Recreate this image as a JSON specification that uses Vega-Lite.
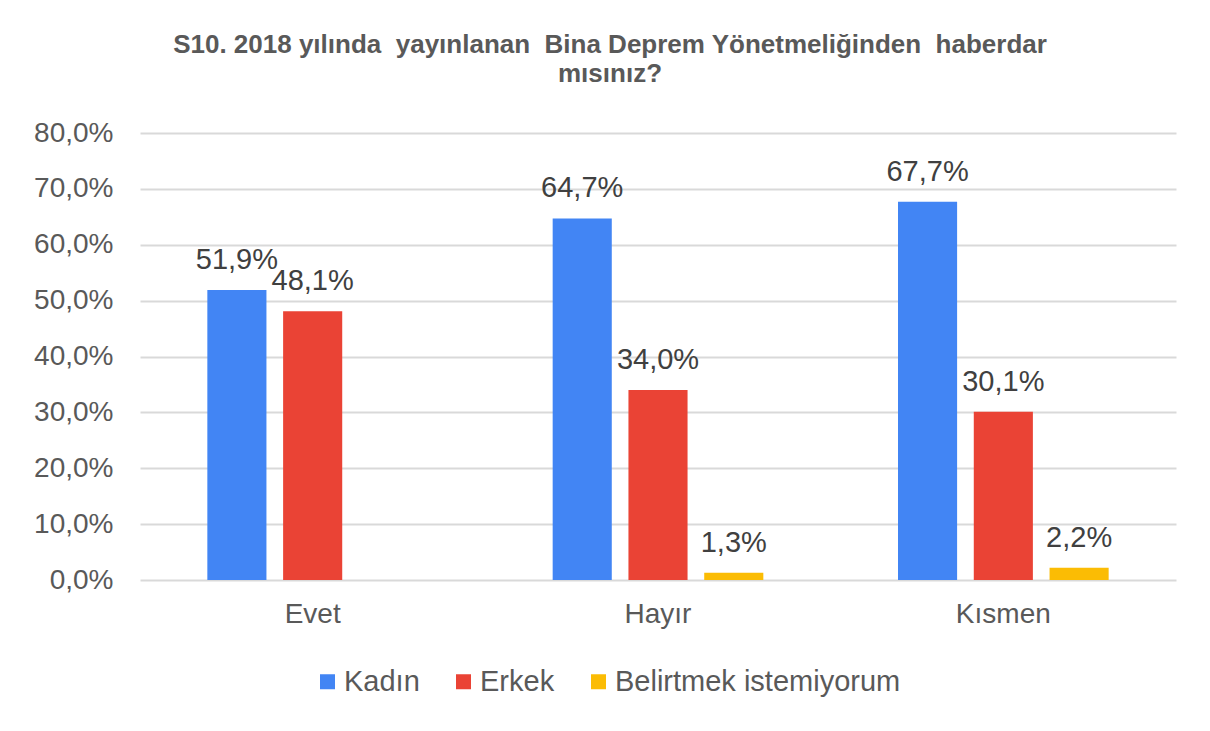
{
  "$schema": "https://vega.github.io/schema/vega-lite/v6.json",
  "width": 1036,
  "height": 447,
  "autosize": {"type": "none"},
  "padding": {"left": 140, "top": 133, "right": 34, "bottom": 151},
  "background": "white",
  "config": {
    "locale": {"number": {"decimal": ",", "thousands": ".", "grouping": [3], "currency": ["", " TL"]}},
    "font": "Liberation Sans",
    "view": {"stroke": null}
  },
  "title": {
    "text": ["S10. 2018 yılında\u00a0 yayınlanan\u00a0 Bina Deprem Yönetmeliğinden\u00a0 haberdar", "mısınız?"],
    "font": "Liberation Sans",
    "fontSize": 26,
    "fontWeight": "bold",
    "color": "#595959",
    "anchor": "middle",
    "dx": -48,
    "offset": 32,
    "lineHeight": 29
  },
  "data": {
    "values": [
      {"cevap": "Evet", "grup": "Kadın", "oran": 0.519},
      {"cevap": "Evet", "grup": "Erkek", "oran": 0.481},
      {"cevap": "Hayır", "grup": "Kadın", "oran": 0.647},
      {"cevap": "Hayır", "grup": "Erkek", "oran": 0.340},
      {"cevap": "Hayır", "grup": "Belirtmek istemiyorum", "oran": 0.013},
      {"cevap": "Kısmen", "grup": "Kadın", "oran": 0.677},
      {"cevap": "Kısmen", "grup": "Erkek", "oran": 0.301},
      {"cevap": "Kısmen", "grup": "Belirtmek istemiyorum", "oran": 0.022}
    ]
  },
  "encoding": {
    "x": {
      "field": "cevap",
      "type": "nominal",
      "sort": ["Evet", "Hayır", "Kısmen"],
      "scale": {"paddingInner": 0.39, "paddingOuter": 0.195},
      "axis": {
        "title": null,
        "labelAngle": 0,
        "ticks": false,
        "domain": false,
        "labelFontSize": 28,
        "labelColor": "#595959",
        "labelPadding": 20
      }
    },
    "xOffset": {
      "field": "grup",
      "type": "nominal",
      "scale": {"domain": ["Kadın", "Erkek", "Belirtmek istemiyorum"], "paddingInner": 0.22, "paddingOuter": 0}
    },
    "y": {
      "field": "oran",
      "type": "quantitative",
      "scale": {"domain": [0, 0.8], "nice": false},
      "axis": {
        "title": null,
        "format": ".1%",
        "values": [0, 0.1, 0.2, 0.3, 0.4, 0.5, 0.6, 0.7, 0.8],
        "ticks": false,
        "domain": false,
        "labelFontSize": 28,
        "labelColor": "#595959",
        "labelPadding": 27,
        "gridColor": "#d9d9d9",
        "gridWidth": 2
      }
    }
  },
  "layer": [
    {
      "mark": {"type": "bar"},
      "encoding": {
        "color": {
          "field": "grup",
          "type": "nominal",
          "scale": {"domain": ["Kadın", "Erkek", "Belirtmek istemiyorum"], "range": ["#4285F4", "#EA4335", "#FBBC04"]},
          "legend": {
            "title": null,
            "orient": "none",
            "direction": "horizontal",
            "legendX": 173,
            "legendY": 534,
            "symbolType": "square",
            "symbolSize": 225,
            "labelFontSize": 29,
            "labelColor": "#595959",
            "labelLimit": 400,
            "columnPadding": 29,
            "labelOffset": 2
          }
        }
      }
    },
    {
      "mark": {"type": "text", "baseline": "alphabetic", "dy": -21, "fontSize": 29, "color": "#404040"},
      "encoding": {
        "text": {"field": "oran", "type": "quantitative", "format": ".1%"}
      }
    }
  ]
}
